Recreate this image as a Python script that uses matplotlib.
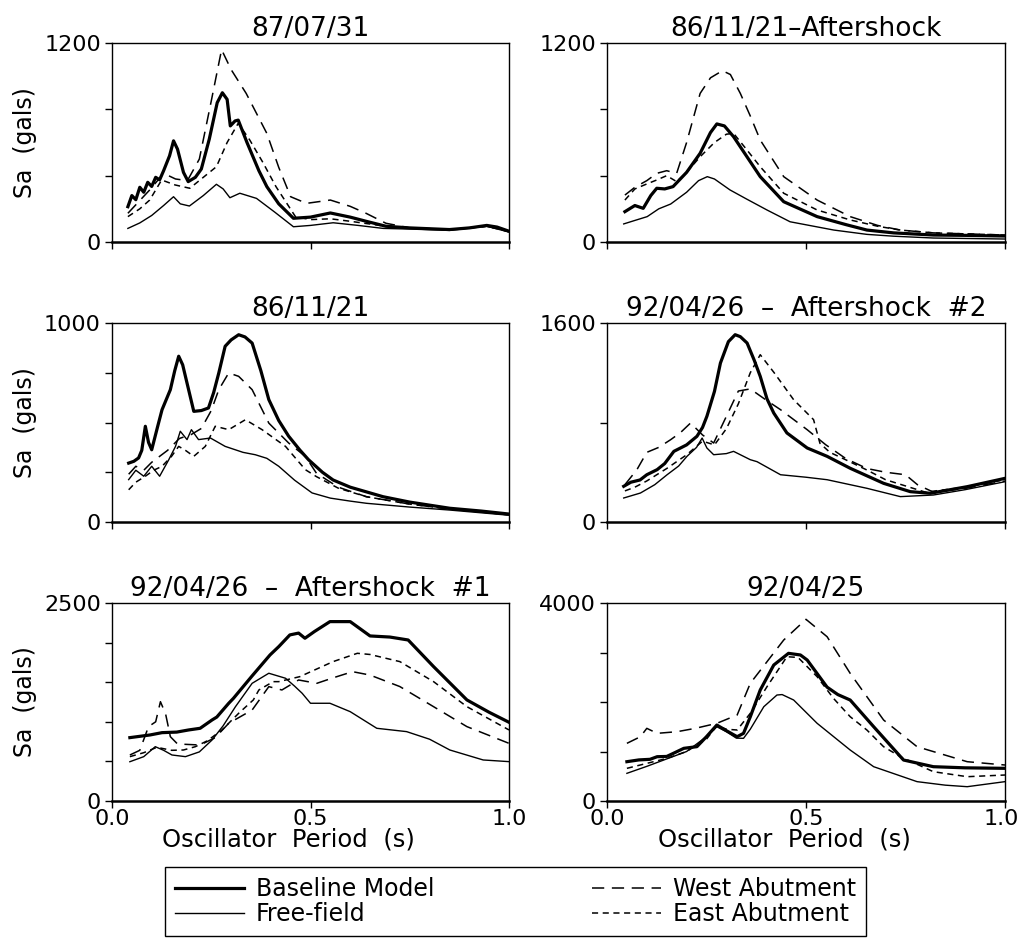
import matplotlib
matplotlib.use('Agg')
import matplotlib.pyplot as plt
import matplotlib.transforms as mtransforms
from matplotlib.lines import Line2D
from matplotlib.ticker import FixedLocator, FixedFormatter

plt.rcParams['font.family'] = ['DejaVu Sans']

# ---------------- data (period in s, Sa in gals) ----------------
titles = ["87/07/31", "86/11/21\u2013Aftershock", "86/11/21",
          "92/04/26  \u2013  Aftershock  #2", "92/04/26  \u2013  Aftershock  #1", "92/04/25"]
y_max = [1200, 1200, 1000, 1600, 2500, 4000]
y_step = [400, 400, 250, 800, 500, 1000]
x_ticks = [0.0, 0.5, 1.0]
x_tick_labels = ["0.0", "0.5", "1.0"]
series_labels = ["Baseline Model", "Free-field", "West Abutment", "East Abutment"]

# Panel 1: 87/07/31
p1_base_T = [0.04, 0.05, 0.06, 0.07, 0.08, 0.09, 0.10, 0.11, 0.12, 0.13, 0.145, 0.155, 0.165, 0.18, 0.192,
             0.21, 0.225, 0.245, 0.265, 0.278, 0.29, 0.298, 0.31, 0.318, 0.34, 0.37, 0.39, 0.42, 0.457, 0.5,
             0.55, 0.6, 0.64, 0.69, 0.75, 0.85, 0.9, 0.944, 0.97, 1.0]
p1_base_S = [213, 280, 255, 330, 300, 360, 335, 390, 375, 430, 520, 610, 560, 420, 364,
             390, 440, 620, 840, 900, 860, 700, 730, 735, 600, 430, 334, 230, 143, 150,
             175, 150, 125, 95, 85, 75, 85, 100, 90, 65]
p1_ff_T = [0.04, 0.07, 0.1, 0.13, 0.155, 0.172, 0.195, 0.23, 0.263, 0.28, 0.297, 0.322, 0.364, 0.41, 0.457,
           0.5, 0.557, 0.62, 0.683, 0.75, 0.85, 0.944, 1.0]
p1_ff_S = [82, 115, 160, 220, 273, 230, 217, 280, 348, 320, 267, 294, 263, 180, 92,
           100, 116, 100, 82, 78, 70, 95, 60]
p1_west_T = [0.04, 0.07, 0.095, 0.13, 0.16, 0.19, 0.22, 0.25, 0.276, 0.3, 0.338, 0.39, 0.42, 0.45, 0.49,
             0.55, 0.6, 0.64, 0.69, 0.75, 0.85, 0.944, 1.0]
p1_west_S = [173, 250, 314, 414, 380, 370, 500, 850, 1160, 1040, 896, 655, 450, 273, 233,
             253, 215, 173, 113, 85, 75, 95, 65]
p1_east_T = [0.04, 0.07, 0.095, 0.125, 0.159, 0.196, 0.23, 0.263, 0.29, 0.318, 0.347, 0.38, 0.413, 0.462,
             0.5, 0.55, 0.6, 0.69, 0.75, 0.85, 0.944, 1.0]
p1_east_S = [153, 200, 253, 374, 344, 324, 390, 454, 600, 716, 615, 480, 334, 153,
             135, 140, 125, 95, 85, 75, 95, 62]

# Panel 2: 86/11/21-Aftershock
p2_base_T = [0.045, 0.07, 0.091, 0.11, 0.125, 0.145, 0.166, 0.2, 0.234, 0.26, 0.276, 0.295, 0.318, 0.35,
             0.385, 0.444, 0.528, 0.6, 0.653, 0.72, 0.82, 0.9, 1.0]
p2_base_S = [183, 220, 203, 280, 324, 320, 334, 420, 535, 660, 712, 700, 635, 520,
             394, 243, 153, 105, 72, 55, 42, 40, 36]
p2_ff_T = [0.042, 0.07, 0.101, 0.13, 0.16, 0.2, 0.23, 0.252, 0.27, 0.309, 0.35, 0.402, 0.46, 0.57, 0.653,
           0.72, 0.82, 1.0]
p2_ff_S = [109, 130, 153, 200, 229, 300, 370, 394, 380, 314, 260, 193, 122, 72, 46,
           35, 24, 18]
p2_west_T = [0.045, 0.07, 0.1, 0.125, 0.15, 0.175, 0.2, 0.234, 0.26, 0.29, 0.31, 0.335, 0.36, 0.385,
             0.444, 0.528, 0.611, 0.68, 0.737, 0.82, 1.0]
p2_west_S = [283, 330, 370, 414, 430, 414, 600, 896, 990, 1033, 1010, 896, 760, 615,
             394, 253, 153, 100, 72, 55, 42]
p2_east_T = [0.045, 0.07, 0.1, 0.125, 0.15, 0.175, 0.2, 0.234, 0.27, 0.3, 0.318, 0.35, 0.385, 0.444,
             0.528, 0.611, 0.68, 0.737, 0.82, 1.0]
p2_east_S = [253, 320, 350, 374, 400, 364, 420, 514, 600, 650, 655, 560, 454, 294,
             193, 133, 95, 72, 55, 42]

# Panel 3: 86/11/21
p3_base_T = [0.042, 0.055, 0.067, 0.075, 0.084, 0.092, 0.1, 0.115, 0.126, 0.147, 0.158, 0.168, 0.178,
             0.189, 0.206, 0.225, 0.243, 0.256, 0.269, 0.285, 0.3, 0.319, 0.335, 0.353, 0.375, 0.395,
             0.42, 0.445, 0.473, 0.495, 0.53, 0.557, 0.6, 0.683, 0.75, 0.851, 0.93, 1.0]
p3_base_S = [296, 305, 322, 360, 481, 400, 363, 480, 564, 665, 760, 833, 790,
             698, 556, 560, 573, 650, 749, 883, 915, 941, 930, 899, 760, 615,
             510, 431, 362, 313, 250, 211, 175, 127, 100, 69, 55, 40]
p3_ff_T = [0.042, 0.06, 0.08, 0.1, 0.12, 0.143, 0.16, 0.172, 0.189, 0.2, 0.218, 0.248, 0.285, 0.33,
           0.361, 0.39, 0.42, 0.46, 0.504, 0.55, 0.6, 0.641, 0.75, 0.851, 1.0]
p3_ff_S = [213, 260, 230, 280, 230, 313, 380, 456, 414, 464, 414, 422, 380, 350,
           338, 320, 280, 210, 146, 120, 105, 94, 75, 60, 34]
p3_west_T = [0.042, 0.06, 0.08, 0.1, 0.12, 0.14, 0.17, 0.2, 0.225, 0.25, 0.269, 0.294, 0.319, 0.353,
             0.395, 0.445, 0.487, 0.515, 0.57, 0.641, 0.75, 0.851, 1.0]
p3_west_S = [240, 280, 260, 300, 330, 360, 420, 440, 470, 560, 665, 749, 732, 665,
             497, 397, 330, 245, 175, 127, 90, 65, 38]
p3_east_T = [0.042, 0.06, 0.084, 0.105, 0.126, 0.15, 0.168, 0.185, 0.206, 0.235, 0.26, 0.294, 0.336,
             0.378, 0.437, 0.487, 0.515, 0.57, 0.641, 0.75, 0.851, 1.0]
p3_east_S = [162, 200, 230, 260, 280, 330, 380, 360, 330, 380, 481, 464, 514,
             464, 380, 263, 228, 170, 127, 90, 65, 36]

# Panel 4: 92/04/26 - Aftershock #2
p4_base_T = [0.042, 0.06, 0.083, 0.1, 0.126, 0.145, 0.168, 0.2, 0.226, 0.24, 0.251, 0.27, 0.285, 0.305,
             0.322, 0.335, 0.352, 0.37, 0.385, 0.402, 0.419, 0.452, 0.503, 0.553, 0.611, 0.695, 0.762,
             0.812, 0.905, 1.0]
p4_base_S = [287, 320, 338, 380, 421, 470, 568, 620, 689, 760, 850, 1050, 1278, 1450,
             1506, 1490, 1439, 1300, 1171, 990, 876, 716, 595, 528, 432, 311, 244,
             231, 284, 351]
p4_ff_T = [0.042, 0.084, 0.12, 0.151, 0.18, 0.201, 0.225, 0.239, 0.251, 0.268, 0.3, 0.318, 0.36, 0.377,
           0.436, 0.5, 0.553, 0.611, 0.653, 0.737, 0.82, 0.9, 1.0]
p4_ff_S = [193, 233, 300, 380, 450, 528, 600, 675, 595, 541, 550, 568, 501, 485,
           380, 360, 340, 300, 271, 204, 217, 260, 324]
p4_west_T = [0.045, 0.075, 0.1, 0.13, 0.16, 0.185, 0.21, 0.24, 0.268, 0.3, 0.33, 0.36, 0.4, 0.436,
             0.503, 0.55, 0.6, 0.653, 0.7, 0.75, 0.78, 0.82, 0.9, 1.0]
p4_west_S = [300, 420, 560, 600, 662, 720, 796, 700, 635, 850, 1053, 1070, 980, 903,
             742, 620, 510, 430, 400, 380, 300, 240, 270, 330]
p4_east_T = [0.045, 0.07, 0.1, 0.125, 0.15, 0.2, 0.24, 0.27, 0.3, 0.33, 0.36, 0.385, 0.42, 0.469,
             0.519, 0.535, 0.56, 0.6, 0.653, 0.7, 0.75, 0.8, 0.9, 1.0]
p4_east_S = [250, 280, 330, 380, 430, 540, 650, 620, 750, 950, 1200, 1345, 1200, 983,
             823, 633, 560, 500, 418, 340, 290, 240, 280, 340]

# Panel 5: 92/04/26 - Aftershock #1
p5_base_T = [0.045, 0.096, 0.126, 0.163, 0.193, 0.222, 0.252, 0.264, 0.294, 0.306, 0.353, 0.398, 0.42,
             0.448, 0.47, 0.486, 0.51, 0.549, 0.6, 0.65, 0.7, 0.746, 0.81, 0.894, 0.95, 1.0]
p5_base_S = [800, 834, 863, 870, 897, 918, 1023, 1060, 1234, 1297, 1580, 1844, 1949,
             2097, 2120, 2055, 2140, 2265, 2265, 2084, 2070, 2033, 1697, 1276, 1120, 994]
p5_ff_T = [0.045, 0.08, 0.109, 0.13, 0.151, 0.185, 0.22, 0.252, 0.28, 0.311, 0.353, 0.395, 0.437, 0.46,
           0.479, 0.5, 0.549, 0.6, 0.667, 0.742, 0.8, 0.851, 0.935, 1.0]
p5_ff_S = [496, 560, 686, 640, 581, 560, 620, 770, 950, 1191, 1486, 1613, 1550, 1450,
           1360, 1234, 1234, 1128, 918, 876, 780, 644, 518, 497]
p5_west_T = [0.045, 0.07, 0.092, 0.11, 0.122, 0.135, 0.147, 0.165, 0.222, 0.26, 0.294, 0.353, 0.395,
             0.428, 0.47, 0.516, 0.56, 0.606, 0.65, 0.725, 0.81, 0.894, 1.0]
p5_west_S = [581, 640, 939, 1000, 1254, 1100, 812, 720, 707, 800, 981, 1149, 1444,
             1402, 1528, 1486, 1560, 1633, 1590, 1445, 1191, 939, 728]
p5_east_T = [0.045, 0.08, 0.113, 0.15, 0.18, 0.21, 0.24, 0.277, 0.319, 0.356, 0.37, 0.406, 0.42, 0.473,
             0.557, 0.618, 0.65, 0.725, 0.81, 0.894, 1.0]
p5_east_S = [560, 610, 678, 640, 644, 686, 760, 897, 1107, 1276, 1402, 1507, 1507, 1570,
             1760, 1865, 1850, 1760, 1507, 1191, 897]

# Panel 6: 92/04/25
p6_base_T = [0.05, 0.08, 0.108, 0.126, 0.15, 0.166, 0.193, 0.226, 0.25, 0.276, 0.3, 0.327, 0.343, 0.36,
             0.385, 0.419, 0.456, 0.486, 0.503, 0.553, 0.58, 0.611, 0.67, 0.745, 0.82, 0.9, 1.0]
p6_base_S = [794, 830, 842, 895, 900, 960, 1064, 1098, 1300, 1535, 1420, 1299, 1367, 1700,
             2242, 2747, 2983, 2950, 2848, 2300, 2150, 2040, 1501, 828, 693, 670, 660]
p6_ff_T = [0.05, 0.1, 0.15, 0.2, 0.25, 0.276, 0.3, 0.325, 0.343, 0.36, 0.394, 0.427, 0.44, 0.469, 0.528,
           0.611, 0.67, 0.779, 0.85, 0.905, 1.0]
p6_ff_S = [559, 700, 850, 1000, 1300, 1500, 1400, 1270, 1266, 1450, 1905, 2141, 2150, 2040, 1569,
           1030, 693, 391, 320, 289, 391]
p6_west_T = [0.05, 0.084, 0.1, 0.126, 0.176, 0.222, 0.276, 0.327, 0.36, 0.402, 0.444, 0.5, 0.553, 0.611,
             0.695, 0.779, 0.905, 1.0]
p6_west_S = [1165, 1299, 1468, 1367, 1400, 1468, 1569, 1737, 2377, 2814, 3252, 3670, 3319, 2579,
             1636, 1097, 794, 727]
p6_east_T = [0.05, 0.1, 0.15, 0.2, 0.25, 0.276, 0.3, 0.327, 0.36, 0.402, 0.452, 0.48, 0.528, 0.569,
             0.611, 0.653, 0.695, 0.737, 0.82, 0.905, 1.0]
p6_east_S = [660, 760, 860, 1000, 1250, 1520, 1450, 1434, 1771, 2309, 2915, 2900, 2511, 2074,
             1703, 1434, 1097, 895, 592, 491, 525]

panels = [
    [(p1_base_T, p1_base_S), (p1_ff_T, p1_ff_S), (p1_west_T, p1_west_S), (p1_east_T, p1_east_S)],
    [(p2_base_T, p2_base_S), (p2_ff_T, p2_ff_S), (p2_west_T, p2_west_S), (p2_east_T, p2_east_S)],
    [(p3_base_T, p3_base_S), (p3_ff_T, p3_ff_S), (p3_west_T, p3_west_S), (p3_east_T, p3_east_S)],
    [(p4_base_T, p4_base_S), (p4_ff_T, p4_ff_S), (p4_west_T, p4_west_S), (p4_east_T, p4_east_S)],
    [(p5_base_T, p5_base_S), (p5_ff_T, p5_ff_S), (p5_west_T, p5_west_S), (p5_east_T, p5_east_S)],
    [(p6_base_T, p6_base_S), (p6_ff_T, p6_ff_S), (p6_west_T, p6_west_S), (p6_east_T, p6_east_S)],
]

# ---------------- styles ----------------
styles = [
    dict(color='black', lw=2.3, linestyle='-'),
    dict(color='black', lw=1.0, linestyle='-'),
    dict(color='black', lw=1.1, linestyle=(0, (8, 5))),
    dict(color='black', lw=1.1, linestyle=(0, (4, 3))),
]

W, H = 1019, 939
fig = plt.figure(figsize=(W / 100, H / 100), dpi=100)

col_x = [(112, 397), (607, 398)]
row_y = [(43, 242), (323, 522), (603, 801)]

for i in range(6):
    r, c = divmod(i, 2)
    x0, w = col_x[c]
    top, bot = row_y[r]
    ax = fig.add_axes([x0 / W, 1 - bot / H, w / W, (bot - top) / H])
    for (T, S), st in zip(panels[i], styles):
        ax.plot(T, S, **st)
    ax.set_xlim(0, 1.0)
    ax.set_ylim(0, y_max[i])
    yt = list(range(0, y_max[i] + 1, y_step[i]))
    ax.yaxis.set_major_locator(FixedLocator(yt))
    ax.yaxis.set_major_formatter(FixedFormatter([str(v) if v in (0, y_max[i]) else '' for v in yt]))
    ax.xaxis.set_major_locator(FixedLocator(x_ticks))
    if r == 2:
        ax.xaxis.set_major_formatter(FixedFormatter(x_tick_labels))
        ax.set_xlabel("Oscillator  Period  (s)", fontsize=17.5)
        ax.xaxis.set_label_coords(0.445, -0.135)
    else:
        ax.xaxis.set_major_formatter(FixedFormatter(['', '', '']))
    ax.tick_params(axis='both', direction='out', length=5, width=1.0, labelsize=16, pad=3)
    ax.tick_params(axis='x', pad=1)
    for s in ax.spines.values():
        s.set_linewidth(1.0)
    ax.spines['bottom'].set_linewidth(1.8)
    ax.set_title(titles[i], fontsize=19, pad=5)
    if c == 0:
        ax.set_ylabel("Sa  (gals)", fontsize=17)
        ax.yaxis.set_label_coords(-0.19, 0.5)
    if r == 2 and c == 1:
        # keep the last tick label inside the canvas, as in the reference
        lbl = ax.get_xticklabels()[-1]
        lbl.set_horizontalalignment('right')
        offset = mtransforms.ScaledTranslation(14 / 100, 0, fig.dpi_scale_trans)
        lbl.set_transform(lbl.get_transform() + offset)

handles = [Line2D([0], [0], **st) for st in styles]
leg = fig.legend(handles, series_labels, ncol=2, loc='upper center',
                 bbox_to_anchor=(515.5 / W, 1 - 867 / H), borderaxespad=0, fontsize=17,
                 frameon=True, fancybox=False, edgecolor='black', framealpha=1,
                 handlelength=2.9, handletextpad=0.5, columnspacing=6.7,
                 labelspacing=0.05, borderpad=0.42)
leg.get_frame().set_linewidth(1.0)

fig.savefig("out.png", dpi=100)
